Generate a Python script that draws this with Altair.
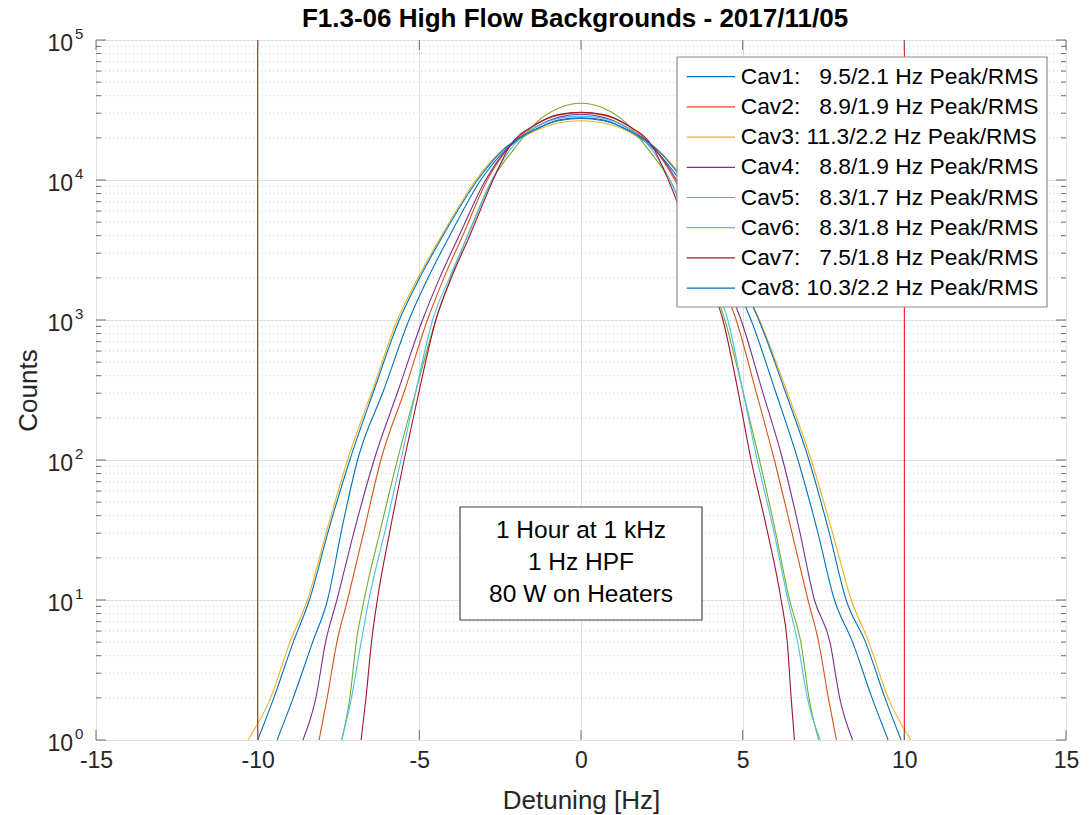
import altair as alt
import pandas as pd

FONT = "Liberation Sans"

cavities = ["Cav1", "Cav2", "Cav3", "Cav4", "Cav5", "Cav6", "Cav7", "Cav8"]
peak_rms = ["9.5/2.1", "8.9/1.9", "11.3/2.2", "8.8/1.9", "8.3/1.7", "8.3/1.8", "7.5/1.8", "10.3/2.2"]
colors = ["#0072BD", "#D95319", "#EDB120", "#7E2F8E", "#77AC30", "#4DBEEE", "#A2142F", "#0072BD"]

# Detuning [Hz] / Counts
cav1_hz = [-9.4, -8.9, -8.3, -7.84, -7.4, -6.91, -6.1, -5.32, -4.73, -4.06, -3.1, -2.35, -1.45, -0.7, 0,
           0.7, 1.45, 2.3, 3.05, 4.02, 4.68, 5.26, 6.0, 6.71, 7.3, 7.84, 8.4, 9.0, 9.5]
cav1_n = [1, 2, 5, 10, 32, 100, 316, 1000, 2000, 4000, 10000, 16300, 22500, 26800, 27800,
          26800, 22500, 16300, 10000, 4000, 2000, 1000, 316, 100, 32, 10, 5, 2, 1]

cav2_hz = [-8.1, -7.85, -7.55, -7.22, -6.7, -6.19, -5.45, -4.75, -4.24, -3.66, -2.9, -2.2, -1.45, -0.7, 0,
           0.7, 1.45, 2.2, 2.9, 3.7, 4.29, 4.8, 5.4, 5.98, 6.5, 7.02, 7.35, 7.65, 7.9]
cav2_n = [1, 2, 5, 10, 32, 100, 316, 1000, 2000, 4000, 10000, 17500, 24500, 29000, 30300,
          29000, 24500, 17500, 10000, 4000, 2000, 1000, 316, 100, 32, 10, 5, 2, 1]

cav3_hz = [-10.3, -9.6, -9.0, -8.46, -7.85, -7.22, -6.45, -5.68, -5.04, -4.31, -3.25, -2.45, -1.5, -0.7, 0,
           0.7, 1.5, 2.4, 3.2, 4.22, 4.9, 5.52, 6.35, 7.12, 7.75, 8.36, 8.9, 9.5, 10.2]
cav3_n = [1, 2, 5, 10, 32, 100, 316, 1000, 2000, 4000, 10000, 16300, 22000, 25500, 26500,
          25500, 22000, 16300, 10000, 4000, 2000, 1000, 316, 100, 32, 10, 5, 2, 1]

cav4_hz = [-8.6, -8.2, -7.9, -7.55, -7.0, -6.40, -5.65, -4.90, -4.37, -3.77, -2.95, -2.25, -1.45, -0.7, 0,
           0.7, 1.45, 2.25, 2.95, 3.8, 4.41, 4.95, 5.6, 6.24, 6.75, 7.22, 7.7, 8.0, 8.4]
cav4_n = [1, 2, 5, 10, 32, 100, 316, 1000, 2000, 4000, 10000, 17000, 23500, 28000, 29500,
          28000, 23500, 17000, 10000, 4000, 2000, 1000, 316, 100, 32, 10, 5, 2, 1]

cav5_hz = [-7.4, -7.15, -6.95, -6.71, -6.2, -5.68, -5.1, -4.49, -4.03, -3.51, -2.75, -2.1, -1.4, -0.7, 0,
           0.7, 1.4, 2.1, 2.75, 3.48, 3.99, 4.45, 5.0, 5.52, 6.0, 6.45, 6.8, 7.05, 7.35]
cav5_n = [1, 2, 5, 10, 32, 100, 316, 1000, 2000, 4000, 10000, 16300, 25500, 32500, 35300,
          32500, 25500, 16300, 10000, 4000, 2000, 1000, 316, 100, 32, 10, 5, 2, 1]

cav6_hz = [-7.4, -7.1, -6.8, -6.56, -6.05, -5.57, -5.1, -4.59, -4.07, -3.5, -2.75, -2.15, -1.45, -0.7, 0,
           0.7, 1.45, 2.15, 2.75, 3.47, 4.03, 4.54, 5.0, 5.45, 5.95, 6.40, 6.7, 7.0, 7.4]
cav6_n = [1, 2, 5, 10, 32, 100, 316, 1000, 2000, 4000, 10000, 17000, 23500, 27500, 28600,
          27500, 23500, 17000, 10000, 4000, 2000, 1000, 316, 100, 32, 10, 5, 2, 1]

cav7_hz = [-6.8, -6.65, -6.48, -6.30, -5.9, -5.47, -5.0, -4.49, -4.01, -3.44, -2.72, -2.2, -1.45, -0.7, 0,
           0.7, 1.45, 2.2, 2.7, 3.38, 3.92, 4.39, 4.85, 5.26, 5.75, 6.19, 6.38, 6.5, 6.6]
cav7_n = [1, 2, 5, 10, 32, 100, 316, 1000, 2000, 4000, 10000, 17500, 24500, 29300, 30500,
          29300, 24500, 17500, 10000, 4000, 2000, 1000, 316, 100, 32, 10, 5, 2, 1]

cav8_hz = [-10.0, -9.5, -8.9, -8.4, -7.8, -7.15, -6.4, -5.62, -4.99, -4.27, -3.2, -2.42, -1.5, -0.7, 0,
           0.7, 1.5, 2.38, 3.15, 4.17, 4.88, 5.5, 6.3, 7.05, 7.65, 8.2, 8.8, 9.4, 9.9]
cav8_n = [1, 2, 5, 10, 32, 100, 316, 1000, 2000, 4000, 10000, 16300, 22500, 26500, 27500,
          26500, 22500, 16300, 10000, 4000, 2000, 1000, 316, 100, 32, 10, 5, 2, 1]

hz_lists = [cav1_hz, cav2_hz, cav3_hz, cav4_hz, cav5_hz, cav6_hz, cav7_hz, cav8_hz]
n_lists = [cav1_n, cav2_n, cav3_n, cav4_n, cav5_n, cav6_n, cav7_n, cav8_n]

x_ticks = [-15, -10, -5, 0, 5, 10, 15]
y_major = [1, 10, 100, 1000, 10000, 100000]
y_exp = ["0", "1", "2", "3", "4", "5"]
y_minor = [m * 10 ** k for k in range(5) for m in range(2, 10)]
limit_lines = [-10, 10]
note_lines = ["1 Hour at 1 kHz", "1 Hz HPF", "80 W on Heaters"]
title_text = "F1.3-06 High Flow Backgrounds - 2017/11/05"

W, H = 970, 700

rows = []
for name, hz, cnt in zip(cavities, hz_lists, n_lists):
    for h, c in zip(hz, cnt):
        rows.append({"cav": name, "hz": h, "count": c})
df = pd.DataFrame(rows)

x_scale = alt.Scale(domain=[-15, 15], nice=False, zero=False)
y_scale = alt.Scale(type="log", domain=[1, 100000], nice=False)

one = pd.DataFrame({"a": [0]})

minor_grid = alt.Chart(pd.DataFrame({"count": y_minor})).mark_rule(
    color="#cccccc", strokeWidth=1, strokeDash=[1, 3]
).encode(y=alt.Y("count:Q", scale=y_scale))

lines = alt.Chart(df).mark_line(strokeWidth=1.1, interpolate="monotone").encode(
    x=alt.X("hz:Q", scale=x_scale,
            axis=alt.Axis(values=x_ticks, grid=True, gridColor="#e0e0e0", gridWidth=1,
                          ticks=False, domain=False, labelFont=FONT, labelFontSize=23,
                          labelExpr="'' + datum.value",
                          labelColor="#262626", labelPadding=9, labelFlush=False,
                          title="Detuning [Hz]", titleFont=FONT, titleFontSize=26,
                          titleFontWeight="normal", titleColor="#262626",
                          titleX=W / 2, titleY=60, titleBaseline="middle")),
    y=alt.Y("count:Q", scale=y_scale,
            axis=alt.Axis(values=y_major, grid=True, gridColor="#e0e0e0", gridWidth=1,
                          ticks=False, domain=False, labels=False,
                          title="Counts", titleFont=FONT, titleFontSize=26,
                          titleFontWeight="normal", titleColor="#262626",
                          titleX=-68, titleY=H / 2, titleBaseline="middle")),
    color=alt.Color("cav:N", scale=alt.Scale(domain=cavities, range=colors), legend=None),
)

red = alt.Chart(pd.DataFrame({"hz": limit_lines})).mark_rule(color="#FF0000", strokeWidth=1).encode(
    x=alt.X("hz:Q", scale=x_scale))

xt = pd.DataFrame({"hz": x_ticks})
ym = pd.DataFrame({"count": y_major, "exp": y_exp})
yn = pd.DataFrame({"count": y_minor})
tick_color = "#6e6e6e"
ticks = [
    alt.Chart(xt).mark_rule(color=tick_color).encode(
        x=alt.X("hz:Q", scale=x_scale), y=alt.value(H), y2=alt.value(H - 10)),
    alt.Chart(xt).mark_rule(color=tick_color).encode(
        x=alt.X("hz:Q", scale=x_scale), y=alt.value(0), y2=alt.value(10)),
    alt.Chart(ym).mark_rule(color=tick_color).encode(
        y=alt.Y("count:Q", scale=y_scale), x=alt.value(0), x2=alt.value(10)),
    alt.Chart(ym).mark_rule(color=tick_color).encode(
        y=alt.Y("count:Q", scale=y_scale), x=alt.value(W), x2=alt.value(W - 10)),
    alt.Chart(yn).mark_rule(color=tick_color).encode(
        y=alt.Y("count:Q", scale=y_scale), x=alt.value(0), x2=alt.value(5)),
    alt.Chart(yn).mark_rule(color=tick_color).encode(
        y=alt.Y("count:Q", scale=y_scale), x=alt.value(W), x2=alt.value(W - 5)),
]

ylab10 = alt.Chart(ym).mark_text(font=FONT, fontSize=23, align="right", baseline="middle",
                                  dy=4, color="#262626").encode(
    y=alt.Y("count:Q", scale=y_scale), x=alt.value(-23), text=alt.value("10"))
ylabexp = alt.Chart(ym).mark_text(font=FONT, fontSize=15, align="left", baseline="middle",
                                   dy=-6, color="#262626").encode(
    y=alt.Y("count:Q", scale=y_scale), x=alt.value(-21), text="exp:N")

# legend box
legend_layers = [
    alt.Chart(one).mark_rect(fill="white", stroke="#8c8c8c", strokeWidth=1.2).encode(
        x=alt.value(581), x2=alt.value(951), y=alt.value(17), y2=alt.value(267))
]
for i, (name, pr, col) in enumerate(zip(cavities, peak_rms, colors)):
    yy = 36.7 + 30.2 * i
    pad = "\u2007" if len(pr.split("/")[0]) < 4 else ""
    label = f"{name}: {pad}{pr} Hz Peak/RMS"
    legend_layers.append(alt.Chart(one).mark_rule(color=col, strokeWidth=1.2).encode(
        x=alt.value(590.7), x2=alt.value(639), y=alt.value(yy)))
    legend_layers.append(alt.Chart(pd.DataFrame({"t": [label]})).mark_text(
        font=FONT, fontSize=22.8, align="left", baseline="middle", color="#000000").encode(
        x=alt.value(644.7), y=alt.value(yy), text="t:N"))

note_layers = [
    alt.Chart(one).mark_rect(fill="white", stroke="#444444", strokeWidth=1.2).encode(
        x=alt.value(364), x2=alt.value(606), y=alt.value(467), y2=alt.value(580))
]
for i, t in enumerate(note_lines):
    note_layers.append(alt.Chart(pd.DataFrame({"t": [t]})).mark_text(
        font=FONT, fontSize=24.5, align="center", baseline="middle", color="#000000").encode(
        x=alt.value(485), y=alt.value(491 + 32.2 * i), text="t:N"))

title = alt.Chart(pd.DataFrame({"t": [title_text]})).mark_text(
    font=FONT, fontSize=26, fontWeight="bold", align="center", baseline="middle",
    color="#000000").encode(x=alt.value(W / 2 - 6), y=alt.value(-21), text="t:N")

chart = alt.layer(
    minor_grid, lines, red, *ticks, ylab10, ylabexp, *legend_layers, *note_layers, title
).properties(
    width=W, height=H,
    padding={"left": 96, "top": 40, "right": 23, "bottom": 75},
    autosize=alt.AutoSizeParams(type="none"),
).configure_view(stroke="#8c8c8c", strokeWidth=1.2).configure(background="white")

chart.save("out.html", embed_options={"renderer": "svg", "actions": False})
